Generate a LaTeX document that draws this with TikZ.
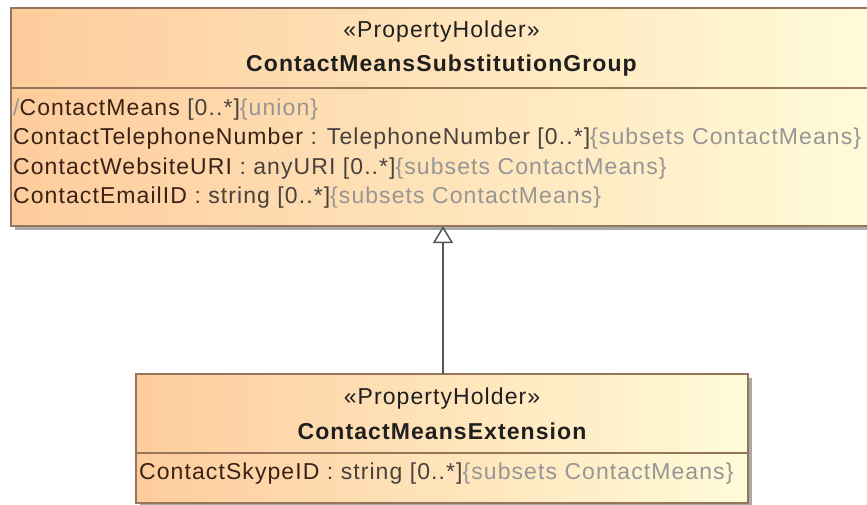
\documentclass[tikz,border=0pt]{standalone}
\usepackage{fontspec}
\setmainfont{Liberation Sans}[LetterSpace=4.7]
\usetikzlibrary{arrows.meta}
\definecolor{cLeft}{RGB}{254,204,156}
\definecolor{cRight}{RGB}{255,251,216}
\definecolor{cBorder}{RGB}{150,118,90}
\definecolor{cName}{RGB}{58,34,22}
\definecolor{cType}{RGB}{72,66,62}
\definecolor{cCons}{RGB}{150,150,150}
\definecolor{cShadow}{RGB}{170,170,170}
\definecolor{cLine}{RGB}{85,85,85}
\newcommand\attN[1]{\textcolor{cName}{#1}}
\newcommand\attT[1]{\textcolor{cType}{#1}}
\newcommand\attC[1]{\textcolor{cCons}{#1}}
\begin{document}
\begin{tikzpicture}[x=1pt,y=-1pt,
  classbox/.style={draw=cBorder, line width=1.2pt, left color=cLeft, right color=cRight, inner sep=0pt, rectangle},
  shadowbox/.style={fill=cShadow, draw=none, inner sep=0pt, rectangle},
  txt/.style={anchor=base west, inner sep=0pt, font=\fontsize{23}{27}\selectfont},
  ttl/.style={anchor=base, inner sep=0pt, font=\fontsize{23}{27}\selectfont, text=black!88},
  sep/.style={draw=cBorder, line width=1.2pt},
  genline/.style={draw=cLine, line width=1.5pt, -{Triangle[open, width=20pt, length=17pt, fill=white]}}
]
\useasboundingbox (0,0) rectangle (867,504);
% shadows
\node[shadowbox, minimum width=861pt, minimum height=218pt] (grpsh) at (445.5,121) {};
\node[shadowbox, minimum width=612pt, minimum height=129pt] (extsh) at (446,442.5) {};
% boxes
\node[classbox, minimum width=861pt, minimum height=218pt] (grp) at (441.5,117) {};
\node[classbox, minimum width=612pt, minimum height=129pt] (ext) at (442,438.5) {};
\coordinate (grpsepL) at (11,88);
\coordinate (grpsepR) at (872,88);
\coordinate (extsepL) at (136,453);
\coordinate (extsepR) at (748,453);
\draw[sep] (grpsepL) -- (grpsepR);
\draw[sep] (extsepL) -- (extsepR);
% top texts
\node[ttl] (grpst) at (441.5,37) {«PropertyHolder»};
\node[ttl, font=\fontsize{23}{27}\selectfont\bfseries] (grpnm) at (441.5,71) {ContactMeansSubstitutionGroup};
\node[txt] (a1) at (13,115) {\attC{/}\attN{ContactMeans} \attT{[0..*]}\attC{\{union\}}};
\node[txt] (a2) at (13,144.5) {\attN{ContactTelephoneNumber} \attT{: TelephoneNumber [0..*]}\attC{\{subsets ContactMeans\}}};
\node[txt] (a3) at (13,174) {\attN{ContactWebsiteURI} \attT{: anyURI [0..*]}\attC{\{subsets ContactMeans\}}};
\node[txt] (a4) at (13,203) {\attN{ContactEmailID} \attT{: string [0..*]}\attC{\{subsets ContactMeans\}}};
% bottom texts
\node[ttl] (extst) at (442,404) {«PropertyHolder»};
\node[ttl, font=\fontsize{23}{27}\selectfont\bfseries] (extnm) at (442,439) {ContactMeansExtension};
\node[txt] (b1) at (139,479) {\attN{ContactSkypeID} \attT{: string [0..*]}\attC{\{subsets ContactMeans\}}};
% generalization
\coordinate (arrTop) at (443,226);
\coordinate (arrBot) at (443,374);
\draw[genline] (arrBot) -- (arrTop);
\end{tikzpicture}
\end{document}
